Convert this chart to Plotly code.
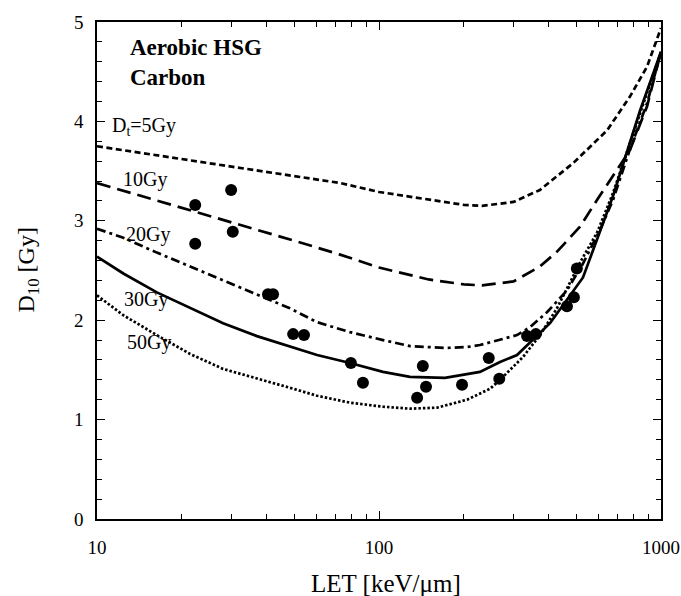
import plotly.graph_objects as go
import numpy as np

# Model curves: D10 versus LET for several tolerance doses D_t
let_5 = [10, 20, 30, 50, 72.8, 100, 150, 200, 232, 300, 372, 488, 644, 776, 892, 1000]
d10_5 = [3.75, 3.62, 3.55, 3.45, 3.38, 3.29, 3.21, 3.16, 3.15, 3.19, 3.31, 3.58, 3.91, 4.25, 4.55, 4.94]

let_10 = [10, 20, 30, 50, 72.8, 100, 150, 200, 232, 300, 372, 428, 516, 593, 776, 892, 1000]
d10_10 = [3.38, 3.13, 2.99, 2.80, 2.66, 2.53, 2.41, 2.36, 2.35, 2.39, 2.54, 2.69, 2.94, 3.21, 3.71, 4.15, 4.70]

let_20 = [10, 12.4, 16.3, 21.4, 28.0, 36.9, 48.3, 60.3, 78.9, 103.3, 128.8, 171.4, 205.2, 228,
          268.6, 308.6, 343.1, 394.2, 464.2, 528.9, 608, 676, 776, 892, 1000]
d10_20 = [2.92, 2.83, 2.68, 2.54, 2.40, 2.26, 2.12, 1.98, 1.88, 1.80, 1.74, 1.72, 1.73, 1.75,
          1.80, 1.85, 1.93, 2.08, 2.30, 2.57, 2.91, 3.21, 3.72, 4.18, 4.70]

let_30 = [10, 12.4, 16.3, 21.4, 28.0, 36.9, 48.3, 60.3, 78.9, 103.3, 128.8, 171.4, 228,
          268.6, 308.6, 404, 529, 676, 843, 1000]
d10_30 = [2.64, 2.47, 2.28, 2.12, 1.97, 1.84, 1.74, 1.65, 1.57, 1.48, 1.43, 1.42, 1.48,
          1.58, 1.65, 1.97, 2.43, 3.25, 4.11, 4.70]

let_50 = [10, 12.4, 16.3, 21.4, 28.0, 36.9, 48.3, 60.3, 78.9, 103.3, 128.8, 160.6, 205.2,
          247.5, 268.6, 324.1, 372.3, 427.8, 516.2, 593, 676, 1000]
d10_50 = [2.25, 2.05, 1.85, 1.66, 1.51, 1.41, 1.32, 1.24, 1.17, 1.13, 1.11, 1.12, 1.20,
          1.31, 1.40, 1.63, 1.85, 2.12, 2.58, 2.88, 3.28, 4.70]

# Measured D10 values for HSG cells irradiated with carbon ions
exp_let = [22.3, 22.3, 29.9, 30.3, 40.4, 42.1, 49.6, 54.2, 79.5, 87.7, 136.5, 143, 146.8,
           197, 245, 267, 335, 360, 464, 491, 503]
exp_d10 = [3.16, 2.77, 3.31, 2.89, 2.26, 2.26, 1.86, 1.85, 1.57, 1.37, 1.22, 1.54, 1.33,
           1.35, 1.62, 1.41, 1.84, 1.86, 2.14, 2.23, 2.52]

curve_labels = ["D<sub>t</sub>=5Gy", "10Gy", "20Gy", "30Gy", "50Gy"]
label_let = [11.1, 12.2, 12.5, 12.3, 12.6]
label_d10 = [3.95, 3.42, 2.86, 2.21, 1.78]

x_tick_vals = [10, 100, 1000]
x_tick_text = ["10", "100", "1000"]
x_minor_vals = [20, 30, 40, 50, 60, 70, 80, 90, 200, 300, 400, 500, 600, 700, 800, 900]

SERIF = "'Liberation Serif', 'Times New Roman', Times, 'DejaVu Serif', serif"

fig = go.Figure()

curves = [
    (let_5, d10_5, "6px,3.5px"),
    (let_10, d10_10, "14px,7px"),
    (let_20, d10_20, "9px,4px,3px,4px"),
    (let_30, d10_30, "solid"),
    (let_50, d10_50, "2.5px,2px"),
]
for xs, ys, dash in curves:
    fig.add_trace(go.Scatter(
        x=xs, y=ys, mode="lines",
        line=dict(color="black", width=2.7, dash=dash),
        showlegend=False, hoverinfo="skip",
    ))

fig.add_trace(go.Scatter(
    x=exp_let, y=exp_d10, mode="markers",
    marker=dict(color="black", size=12, line=dict(width=0)),
    showlegend=False,
))

# invisible trace that anchors the top / right tick axes
fig.add_trace(go.Scatter(
    x=[10, 1000], y=[0, 5], xaxis="x2", yaxis="y2", mode="markers",
    marker=dict(opacity=0), showlegend=False, hoverinfo="skip",
))

for txt, lx, ly in zip(curve_labels, label_let, label_d10):
    fig.add_annotation(
        x=np.log10(lx), y=ly, xref="x", yref="y", text=txt,
        showarrow=False, xanchor="left", yanchor="middle",
        font=dict(family=SERIF, size=20, color="black"),
    )

fig.add_annotation(
    x=0.055, y=0.977, xref="paper", yref="paper",
    text="<b>Aerobic HSG</b><br><b>Carbon</b>",
    showarrow=False, xanchor="left", yanchor="top", align="left",
    font=dict(family=SERIF, size=23, color="black"),
)

# Axis titles
fig.add_annotation(
    x=0.513, y=-0.129, xref="paper", yref="paper", text="LET [keV/μm]",
    showarrow=False, xanchor="center", yanchor="middle",
    font=dict(family=SERIF, size=25, color="black"),
)
fig.add_annotation(
    x=-0.124, y=0.5, xref="paper", yref="paper", text="D<sub>10</sub> [Gy]",
    showarrow=False, xanchor="center", yanchor="middle", textangle=-90,
    font=dict(family=SERIF, size=24, color="black"),
)

axis_common = dict(
    showline=True, linecolor="black", linewidth=1.5,
    ticks="inside", ticklen=8, tickwidth=1.3, tickcolor="black",
    showgrid=False, zeroline=False, automargin=False,
    tickfont=dict(family=SERIF, size=19, color="black"),
)
x_minor = dict(ticks="inside", ticklen=5, tickwidth=1.2, tickcolor="black",
               tickvals=x_minor_vals, showgrid=False)
y_minor = dict(ticks="inside", ticklen=5, tickwidth=1.2, tickcolor="black",
               dtick=0.2, showgrid=False)

fig.update_layout(
    width=681, height=596,
    margin=dict(l=97, r=20, t=22, b=77),
    paper_bgcolor="white", plot_bgcolor="white",
    xaxis=dict(type="log", range=[1, 3], tickvals=x_tick_vals, ticktext=x_tick_text,
               minor=x_minor, ticklabelstandoff=10, **axis_common),
    yaxis=dict(range=[0, 5], dtick=1, tick0=0, minor=y_minor,
               ticklabelstandoff=8, **axis_common),
    xaxis2=dict(type="log", range=[1, 3], tickvals=x_tick_vals, minor=x_minor,
                overlaying="x", side="top", anchor="y", showticklabels=False,
                **{k: v for k, v in axis_common.items() if k != "tickfont"}),
    yaxis2=dict(range=[0, 5], dtick=1, tick0=0, minor=y_minor,
                overlaying="y", side="right", anchor="x", showticklabels=False,
                **{k: v for k, v in axis_common.items() if k != "tickfont"}),
)

fig.write_html("out.html")
